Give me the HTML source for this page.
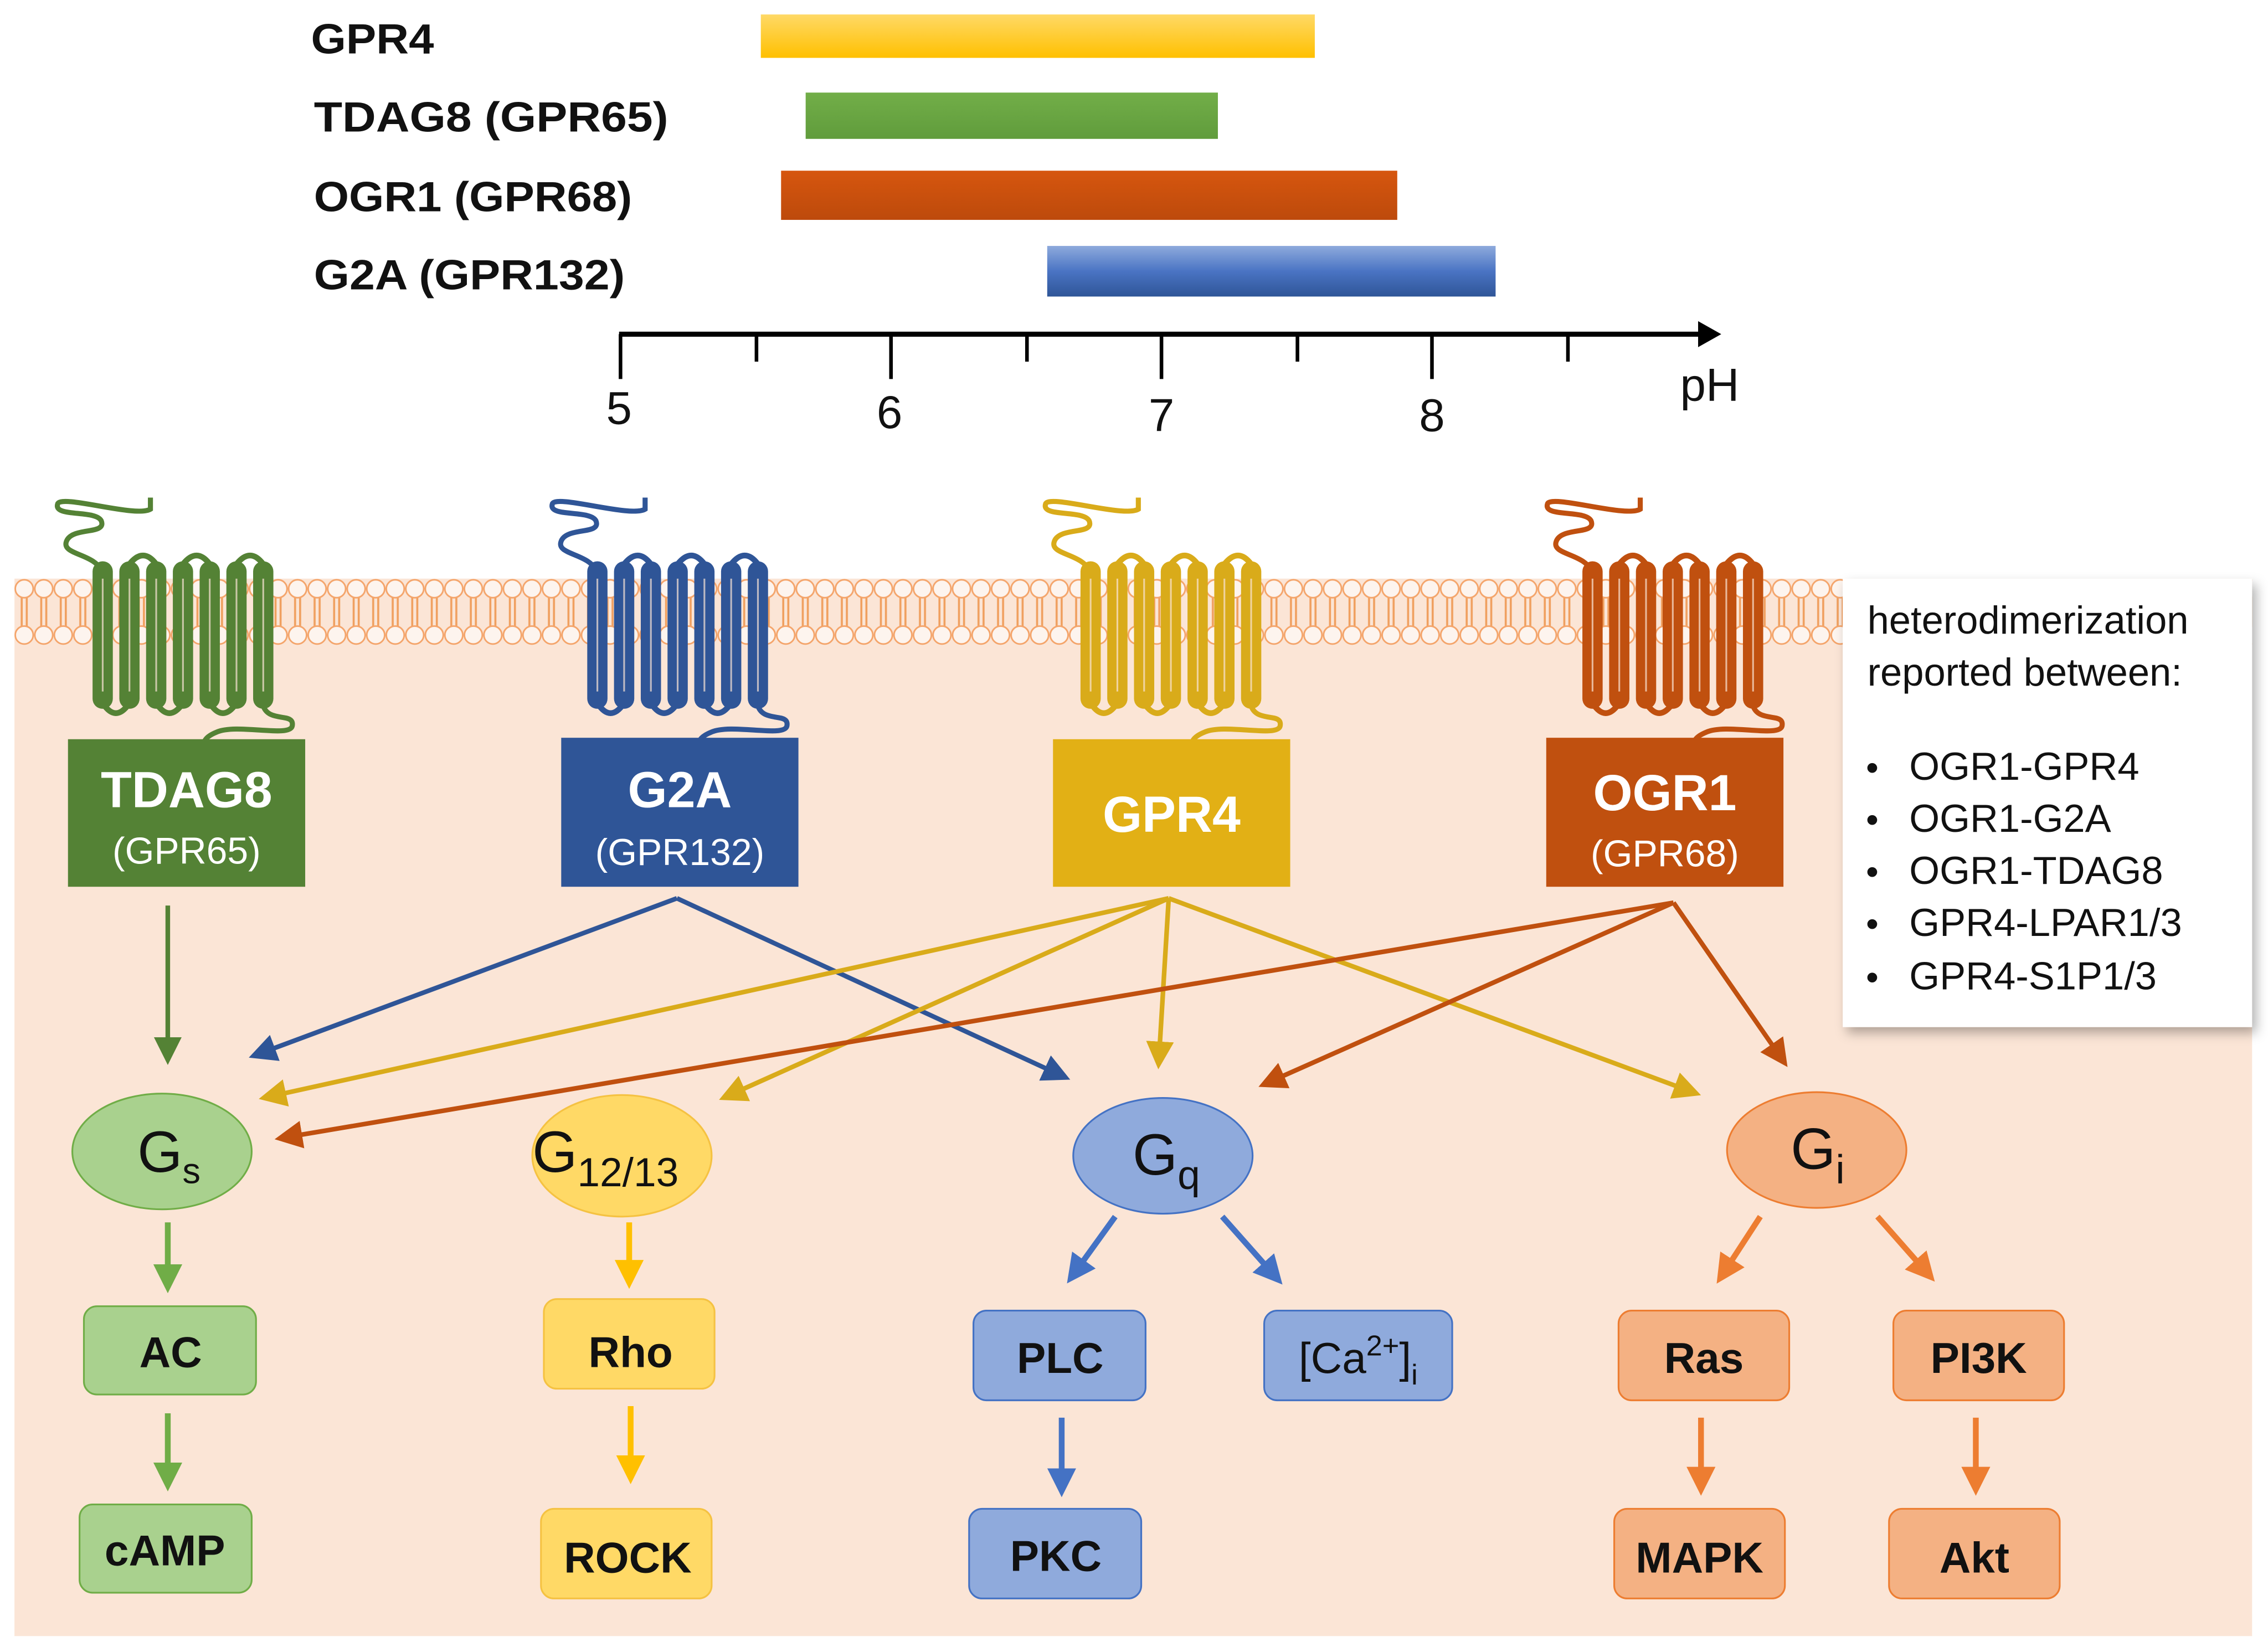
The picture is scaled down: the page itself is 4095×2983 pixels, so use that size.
<!DOCTYPE html>
<html><head><meta charset="utf-8"><style>
html,body{margin:0;padding:0;background:#fff}
svg{display:block}
text{font-family:"Liberation Sans",Arial,sans-serif}
</style></head><body>
<svg width="4095" height="2983" viewBox="0 0 1568 1142" preserveAspectRatio="none" xmlns="http://www.w3.org/2000/svg">
<defs>
<linearGradient id="gY" x1="0" y1="0" x2="0" y2="1"><stop offset="0" stop-color="#ffd966"/><stop offset="1" stop-color="#ffc000"/></linearGradient>
<linearGradient id="gG" x1="0" y1="0" x2="0" y2="1"><stop offset="0" stop-color="#72ae48"/><stop offset="1" stop-color="#609c3c"/></linearGradient>
<linearGradient id="gO" x1="0" y1="0" x2="0" y2="1"><stop offset="0" stop-color="#d6560e"/><stop offset="1" stop-color="#bd4a0c"/></linearGradient>
<linearGradient id="gB" x1="0" y1="0" x2="0" y2="1"><stop offset="0" stop-color="#8eaadc"/><stop offset="0.5" stop-color="#4a74c4"/><stop offset="1" stop-color="#2f5597"/></linearGradient>
<pattern id="mem" x="10" y="400" width="13.5" height="46" patternUnits="userSpaceOnUse">
<line x1="5" y1="12" x2="5" y2="34" stroke="#f0a060" stroke-width="1.4"/>
<line x1="8.5" y1="12" x2="8.5" y2="34" stroke="#f0a060" stroke-width="1.4"/>
<circle cx="6.75" cy="7" r="6.2" fill="#fdf4ee" stroke="#f4a46a" stroke-width="1.1"/>
<circle cx="6.75" cy="39" r="6.2" fill="#fdf4ee" stroke="#f4a46a" stroke-width="1.1"/>
</pattern>
<filter id="sh" x="-10%" y="-10%" width="130%" height="130%"><feDropShadow dx="3" dy="4" stdDeviation="4" flood-color="#000" flood-opacity="0.3"/></filter>
<marker id="mG" markerWidth="6" markerHeight="6" refX="5" refY="3" orient="auto" markerUnits="strokeWidth"><path d="M0,0 L6,3 L0,6 z" fill="#548235"/></marker>
<marker id="mB" markerWidth="6" markerHeight="6" refX="5" refY="3" orient="auto" markerUnits="strokeWidth"><path d="M0,0 L6,3 L0,6 z" fill="#2f5597"/></marker>
<marker id="mY" markerWidth="6" markerHeight="6" refX="5" refY="3" orient="auto" markerUnits="strokeWidth"><path d="M0,0 L6,3 L0,6 z" fill="#d9ab1a"/></marker>
<marker id="mO" markerWidth="6" markerHeight="6" refX="5" refY="3" orient="auto" markerUnits="strokeWidth"><path d="M0,0 L6,3 L0,6 z" fill="#c0500f"/></marker>
<marker id="mLG" markerWidth="5" markerHeight="5" refX="4" refY="2.5" orient="auto" markerUnits="strokeWidth"><path d="M0,0 L5,2.5 L0,5 z" fill="#70ad47"/></marker>
<marker id="mLY" markerWidth="5" markerHeight="5" refX="4" refY="2.5" orient="auto" markerUnits="strokeWidth"><path d="M0,0 L5,2.5 L0,5 z" fill="#ffc000"/></marker>
<marker id="mLB" markerWidth="5" markerHeight="5" refX="4" refY="2.5" orient="auto" markerUnits="strokeWidth"><path d="M0,0 L5,2.5 L0,5 z" fill="#4472c4"/></marker>
<marker id="mLO" markerWidth="5" markerHeight="5" refX="4" refY="2.5" orient="auto" markerUnits="strokeWidth"><path d="M0,0 L5,2.5 L0,5 z" fill="#ed7d31"/></marker>
<g id="rec">
<path d="M7 8 C2 -6,-22 -4,-18 -14 C-14 -24,10 -18,6 -28 C2 -36,-28 -30,-24 -40 C-20 -46,30 -30,40 -36 L40 -44" fill="none" stroke="currentColor" stroke-width="3.5"/>
<path d="M118 100 C122 112,140 104,138 114 C136 122,100 112,86 118 C76 122,76 126,78 132" fill="none" stroke="currentColor" stroke-width="3.5"/>
<g fill="none" stroke="currentColor" stroke-width="4">
<path d="M7 98 Q16 112 25.5 98"/><path d="M44 98 Q53 112 62.5 98"/><path d="M81 98 Q90 112 99.5 98"/>
<path d="M25.5 2 Q35 -10 44 2"/><path d="M62.5 2 Q72 -10 81 2"/><path d="M99.5 2 Q109 -10 118 2"/>
</g>
<g fill="currentColor">
<rect x="0" y="0" width="14" height="102" rx="7"/><rect x="18.5" y="0" width="14" height="102" rx="7"/>
<rect x="37" y="0" width="14" height="102" rx="7"/><rect x="55.5" y="0" width="14" height="102" rx="7"/>
<rect x="74" y="0" width="14" height="102" rx="7"/><rect x="92.5" y="0" width="14" height="102" rx="7"/>
<rect x="111" y="0" width="14" height="102" rx="7"/>
</g>
<g stroke="#fbe5d6" stroke-width="1.2" opacity="0.7">
<line x1="7" y1="12" x2="7" y2="90"/><line x1="25.5" y1="12" x2="25.5" y2="90"/><line x1="44" y1="12" x2="44" y2="90"/><line x1="62.5" y1="12" x2="62.5" y2="90"/><line x1="81" y1="12" x2="81" y2="90"/><line x1="99.5" y1="12" x2="99.5" y2="90"/><line x1="118" y1="12" x2="118" y2="90"/>
</g>
</g>
</defs>

<!-- top chart -->
<g font-size="29" font-weight="bold" fill="#111">
<text x="215" y="37" textLength="85" lengthAdjust="spacingAndGlyphs">GPR4</text>
<text x="217" y="91" textLength="245" lengthAdjust="spacingAndGlyphs">TDAG8 (GPR65)</text>
<text x="217" y="146" textLength="220" lengthAdjust="spacingAndGlyphs">OGR1 (GPR68)</text>
<text x="217" y="200" textLength="215" lengthAdjust="spacingAndGlyphs">G2A (GPR132)</text>
</g>
<rect x="526" y="10" width="383" height="30" fill="url(#gY)"/>
<rect x="557" y="64" width="285" height="32" fill="url(#gG)"/>
<rect x="540" y="118" width="426" height="34" fill="url(#gO)"/>
<rect x="724" y="170" width="310" height="35" fill="url(#gB)"/>
<line x1="428" y1="231" x2="1178" y2="231" stroke="#000" stroke-width="3.5"/>
<path d="M1174 222 L1190 231 L1174 240 z" fill="#000"/>
<g stroke="#000" stroke-width="2.5">
<line x1="429" y1="231" x2="429" y2="262"/><line x1="523" y1="231" x2="523" y2="250"/>
<line x1="616" y1="231" x2="616" y2="262"/><line x1="710" y1="231" x2="710" y2="250"/>
<line x1="803" y1="231" x2="803" y2="262"/><line x1="897" y1="231" x2="897" y2="250"/>
<line x1="990" y1="231" x2="990" y2="262"/><line x1="1084" y1="231" x2="1084" y2="250"/>
</g>
<g font-size="32" fill="#111" text-anchor="middle">
<text x="428" y="293">5</text><text x="615" y="296">6</text><text x="803" y="298">7</text><text x="990" y="298">8</text><text x="1182" y="277">pH</text>
</g>

<!-- cell -->
<rect x="10" y="400" width="1547" height="731" fill="#fbe5d6"/>
<rect x="10" y="400" width="1547" height="46" fill="url(#mem)"/>

<use href="#rec" x="64" y="388" color="#548235"/>
<use href="#rec" x="406" y="388" color="#2f5597"/>
<use href="#rec" x="747" y="388" color="#d9ab1a"/>
<use href="#rec" x="1094" y="388" color="#c0500f"/>

<!-- hetero box -->
<rect x="1274" y="400" width="283" height="310" fill="#fff" filter="url(#sh)"/>
<g font-size="27" fill="#111">
<text x="1291" y="438">heterodimerization</text>
<text x="1291" y="474">reported between:</text>
<g font-size="25"><text x="1290" y="539">•</text><text x="1290" y="575">•</text><text x="1290" y="611">•</text><text x="1290" y="647">•</text><text x="1290" y="684">•</text></g>
<text x="1320" y="539">OGR1-GPR4</text>
<text x="1320" y="575">OGR1-G2A</text>
<text x="1320" y="611">OGR1-TDAG8</text>
<text x="1320" y="647">GPR4-LPAR1/3</text>
<text x="1320" y="684">GPR4-S1P1/3</text>
</g>

<!-- receptor boxes -->
<rect x="47" y="511" width="164" height="102" fill="#548235"/>
<rect x="388" y="510" width="164" height="103" fill="#2f5597"/>
<rect x="728" y="511" width="164" height="102" fill="#e2b015"/>
<rect x="1069" y="510" width="164" height="103" fill="#c0500f"/>
<g fill="#fff" text-anchor="middle">
<text x="129" y="558" font-size="35" font-weight="bold">TDAG8</text>
<text x="129" y="597" font-size="26">(GPR65)</text>
<text x="470" y="558" font-size="35" font-weight="bold">G2A</text>
<text x="470" y="598" font-size="26">(GPR132)</text>
<text x="810" y="575" font-size="35" font-weight="bold">GPR4</text>
<text x="1151" y="560" font-size="35" font-weight="bold">OGR1</text>
<text x="1151" y="599" font-size="26">(GPR68)</text>
</g>

<!-- connectors -->
<g fill="none" stroke-width="3.2">
<line x1="116" y1="626" x2="116" y2="733" stroke="#548235" marker-end="url(#mG)"/>
<line x1="468" y1="621" x2="175" y2="730" stroke="#2f5597" marker-end="url(#mB)"/>
<line x1="468" y1="621" x2="737" y2="745" stroke="#2f5597" marker-end="url(#mB)"/>
<line x1="808" y1="621" x2="182" y2="759" stroke="#d9ab1a" marker-end="url(#mY)"/>
<line x1="808" y1="621" x2="500" y2="759" stroke="#d9ab1a" marker-end="url(#mY)"/>
<line x1="808" y1="621" x2="801" y2="736" stroke="#d9ab1a" marker-end="url(#mY)"/>
<line x1="808" y1="621" x2="1173" y2="756" stroke="#d9ab1a" marker-end="url(#mY)"/>
<line x1="1157" y1="624" x2="193" y2="787" stroke="#c0500f" marker-end="url(#mO)"/>
<line x1="1157" y1="624" x2="873" y2="750" stroke="#c0500f" marker-end="url(#mO)"/>
<line x1="1157" y1="624" x2="1234" y2="735" stroke="#c0500f" marker-end="url(#mO)"/>
</g>
<g fill="none" stroke-width="4">
<line x1="116" y1="845" x2="116" y2="890" stroke="#70ad47" marker-end="url(#mLG)"/>
<line x1="116" y1="977" x2="116" y2="1027" stroke="#70ad47" marker-end="url(#mLG)"/>
<line x1="435" y1="845" x2="435" y2="887" stroke="#ffc000" marker-end="url(#mLY)"/>
<line x1="436" y1="972" x2="436" y2="1022" stroke="#ffc000" marker-end="url(#mLY)"/>
<line x1="771" y1="841" x2="740" y2="884" stroke="#4472c4" marker-end="url(#mLB)"/>
<line x1="845" y1="841" x2="884" y2="885" stroke="#4472c4" marker-end="url(#mLB)"/>
<line x1="734" y1="980" x2="734" y2="1031" stroke="#4472c4" marker-end="url(#mLB)"/>
<line x1="1217" y1="841" x2="1189" y2="884" stroke="#ed7d31" marker-end="url(#mLO)"/>
<line x1="1298" y1="841" x2="1335" y2="883" stroke="#ed7d31" marker-end="url(#mLO)"/>
<line x1="1176" y1="980" x2="1176" y2="1030" stroke="#ed7d31" marker-end="url(#mLO)"/>
<line x1="1366" y1="980" x2="1366" y2="1030" stroke="#ed7d31" marker-end="url(#mLO)"/>
</g>

<!-- G proteins -->
<ellipse cx="112" cy="796" rx="62" ry="40" fill="#a9d18e" stroke="#70ad47" stroke-width="1.2"/>
<ellipse cx="430" cy="799" rx="62" ry="42" fill="#ffd966" stroke="#f5c242" stroke-width="1.2"/>
<ellipse cx="804" cy="799" rx="62" ry="40" fill="#8faadc" stroke="#4472c4" stroke-width="1.2"/>
<ellipse cx="1256" cy="795" rx="62" ry="40" fill="#f4b183" stroke="#ed7d31" stroke-width="1.2"/>
<g font-size="40" fill="#111">
<text x="95" y="810">G<tspan font-size="25" dy="8">s</tspan></text>
<text x="368" y="810">G<tspan font-size="28" dy="10">12/13</tspan></text>
<text x="783" y="812">G<tspan font-size="28" dy="10">q</tspan></text>
<text x="1238" y="808">G<tspan font-size="28" dy="10">i</tspan></text>
</g>

<!-- effector boxes -->
<g stroke-width="1.2">
<rect x="58" y="903" width="119" height="61" rx="9" fill="#a9d18e" stroke="#70ad47"/>
<rect x="55" y="1040" width="119" height="61" rx="9" fill="#a9d18e" stroke="#70ad47"/>
<rect x="376" y="898" width="118" height="62" rx="9" fill="#ffd966" stroke="#f5c242"/>
<rect x="374" y="1043" width="118" height="62" rx="9" fill="#ffd966" stroke="#f5c242"/>
<rect x="673" y="906" width="119" height="62" rx="9" fill="#8faadc" stroke="#4472c4"/>
<rect x="670" y="1043" width="119" height="62" rx="9" fill="#8faadc" stroke="#4472c4"/>
<rect x="874" y="906" width="130" height="62" rx="9" fill="#8faadc" stroke="#4472c4"/>
<rect x="1119" y="906" width="118" height="62" rx="9" fill="#f4b183" stroke="#ed7d31"/>
<rect x="1116" y="1043" width="118" height="62" rx="9" fill="#f4b183" stroke="#ed7d31"/>
<rect x="1309" y="906" width="118" height="62" rx="9" fill="#f4b183" stroke="#ed7d31"/>
<rect x="1306" y="1043" width="118" height="62" rx="9" fill="#f4b183" stroke="#ed7d31"/>
</g>
<g font-size="30" font-weight="bold" fill="#111" text-anchor="middle">
<text x="118" y="945">AC</text>
<text x="114" y="1082">cAMP</text>
<text x="436" y="945">Rho</text>
<text x="434" y="1087">ROCK</text>
<text x="733" y="949">PLC</text>
<text x="730" y="1086">PKC</text>
<text x="939" y="949" font-weight="normal">[Ca<tspan font-size="20" dy="-12">2+</tspan><tspan dy="12">]</tspan><tspan font-size="20" dy="8">i</tspan></text>
<text x="1178" y="949">Ras</text>
<text x="1175" y="1087">MAPK</text>
<text x="1368" y="949">PI3K</text>
<text x="1365" y="1087">Akt</text>
</g>
</svg>
</body></html>
